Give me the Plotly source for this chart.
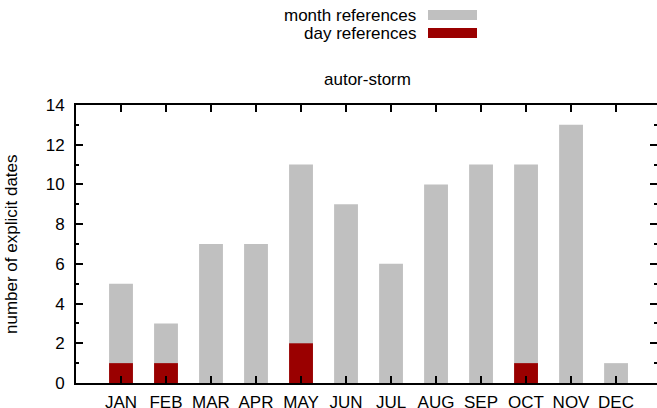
import plotly.graph_objects as go

months = ["JAN", "FEB", "MAR", "APR", "MAY", "JUN", "JUL", "AUG", "SEP", "OCT", "NOV", "DEC"]
month_refs = [5, 3, 7, 7, 11, 9, 6, 10, 11, 11, 13, 1]
day_refs = [1, 1, 0, 0, 2, 0, 0, 0, 0, 1, 0, 0]
series_names = ["month references", "day references"]
title_text = "autor-storm"
y_title = "number of explicit dates"

GRAY = "#c0c0c0"
RED = "#9a0000"
FONT = "Liberation Sans, Arial, sans-serif"
FS = 17

fig = go.Figure()
fig.add_trace(go.Bar(x=months, y=month_refs, name=series_names[0],
                     marker=dict(color=GRAY, line=dict(width=0)), width=0.53))
fig.add_trace(go.Bar(x=months, y=day_refs, name=series_names[1],
                     marker=dict(color=RED, line=dict(width=0)), width=0.53))

axis_common = dict(showline=True, linecolor="black", linewidth=2, mirror="ticks",
                   ticks="inside", tickcolor="black", tickwidth=2, ticklen=7,
                   showgrid=False, zeroline=False, automargin=False,
                   tickfont=dict(family=FONT, size=FS, color="black"))

fig.update_layout(
    width=657, height=408,
    margin=dict(l=76, r=0, t=105, b=25, pad=0),
    paper_bgcolor="white", plot_bgcolor="white",
    barmode="overlay",
    showlegend=False,
    font=dict(family=FONT, size=FS, color="black"),
    xaxis=dict(type="category", range=[-1, 11.91], ticklabelstandoff=3, **axis_common),
    yaxis=dict(range=[0, 14], dtick=2, ticklabelstandoff=6,
               minor=dict(dtick=1, ticks="inside", ticklen=3, tickcolor="black", tickwidth=2),
               **axis_common),
)

W = 581.0
H = 278.0
def px_x(p):
    return (p - 76) / W
def px_y(p):
    return (383 - p) / H

# y-axis title
fig.add_annotation(text=y_title, xref="paper", yref="paper", x=px_x(11), y=px_y(244),
                   textangle=-90, xanchor="center", yanchor="middle", showarrow=False,
                   font=dict(family=FONT, size=FS, color="black"))

# title
fig.add_annotation(text=title_text, xref="paper", yref="paper", x=px_x(367), y=px_y(80),
                   xanchor="center", yanchor="middle", showarrow=False,
                   font=dict(family=FONT, size=FS, color="black"))

# gnuplot-style legend: text right-aligned, sample to its right
legend_rows = [(series_names[0], GRAY, 15), (series_names[1], RED, 33)]
for name, col, yc in legend_rows:
    fig.add_annotation(text=name, xref="paper", yref="paper", x=px_x(418), y=px_y(yc),
                       xanchor="right", yanchor="middle", showarrow=False,
                       font=dict(family=FONT, size=FS, color="black"))
    fig.add_shape(type="rect", xref="paper", yref="paper",
                  x0=px_x(428), x1=px_x(477), y0=px_y(yc - 5), y1=px_y(yc + 5),
                  fillcolor=col, line=dict(width=0))

fig.write_html("out.html", config={"displayModeBar": False, "staticPlot": True},
               post_script="document.body.style.margin='0';document.body.style.overflow='hidden';")
